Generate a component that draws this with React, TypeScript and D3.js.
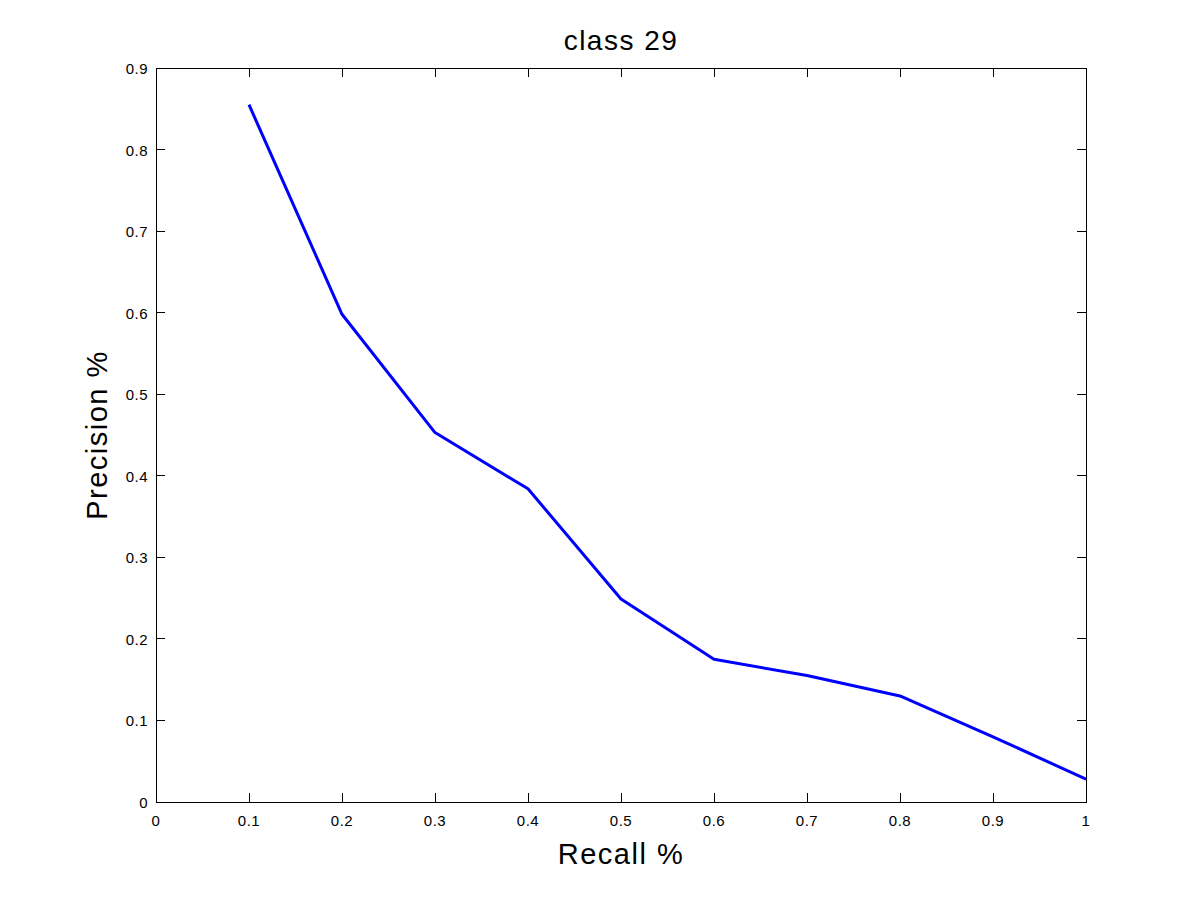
import React from "react";
import * as d3 from "d3";

const recall = [0.1, 0.2, 0.3, 0.4, 0.5, 0.6, 0.7, 0.8, 0.9, 1.0];
const precision = [0.855, 0.598, 0.453, 0.384, 0.249, 0.175, 0.155, 0.13, 0.08, 0.028];
const xTicks = [0, 0.1, 0.2, 0.3, 0.4, 0.5, 0.6, 0.7, 0.8, 0.9, 1];
const yTicks = [0, 0.1, 0.2, 0.3, 0.4, 0.5, 0.6, 0.7, 0.8, 0.9];
const title = "class 29";
const xLabel = "Recall %";
const yLabel = "Precision %";

export default function App() {
  const W = 1200, H = 901;
  const L = 156, R = 1086, T = 68, B = 802;
  const x = d3.scaleLinear().domain([0, 1]).range([L, R]);
  const y = d3.scaleLinear().domain([0, 0.9]).range([B, T]);
  const line = d3.line<number>().x((_, i) => x(recall[i])).y((d) => y(d));
  const tl = 9;
  const font = "'Liberation Sans', Arial, Helvetica, sans-serif";
  const fmt = (v: number) => (v === 0 ? "0" : v === 1 ? "1" : String(v));
  return (
    <svg width={W} height={H} style={{ position: "absolute", left: 0, top: 0, background: "#fff" }} fontFamily={font}>
      <rect x={0} y={0} width={W} height={H} fill="#fff" />
      <rect x={L} y={T} width={R - L} height={B - T} fill="#fff" stroke="#000" strokeWidth={1} shapeRendering="crispEdges" />
      {xTicks.map((t) => (
        <g key={"x" + t}>
          <line x1={x(t)} x2={x(t)} y1={B} y2={B - tl} stroke="#000" shapeRendering="crispEdges" />
          <line x1={x(t)} x2={x(t)} y1={T} y2={T + tl} stroke="#000" shapeRendering="crispEdges" />
          <text x={x(t)} y={B + 24} textAnchor="middle" fontSize={15} letterSpacing={0.5}>{fmt(t)}</text>
        </g>
      ))}
      {yTicks.map((t) => (
        <g key={"y" + t}>
          <line x1={L} x2={L + tl} y1={y(t)} y2={y(t)} stroke="#000" shapeRendering="crispEdges" />
          <line x1={R} x2={R - tl} y1={y(t)} y2={y(t)} stroke="#000" shapeRendering="crispEdges" />
          <text x={L - 8} y={y(t) + 6} textAnchor="end" fontSize={15} letterSpacing={0.5}>{fmt(t)}</text>
        </g>
      ))}
      <path d={line(precision) || ""} fill="none" stroke="#0000ff" strokeWidth={3} strokeLinejoin="round" />
      <text x={(L + R) / 2} y={50} textAnchor="middle" fontSize={28} letterSpacing={1.5}>{title}</text>
      <text x={(L + R) / 2} y={864} textAnchor="middle" fontSize={29} letterSpacing={1.5}>{xLabel}</text>
      <text transform={`translate(107, ${(T + B) / 2}) rotate(-90)`} textAnchor="middle" fontSize={29} letterSpacing={1.5}>{yLabel}</text>
    </svg>
  );
}
